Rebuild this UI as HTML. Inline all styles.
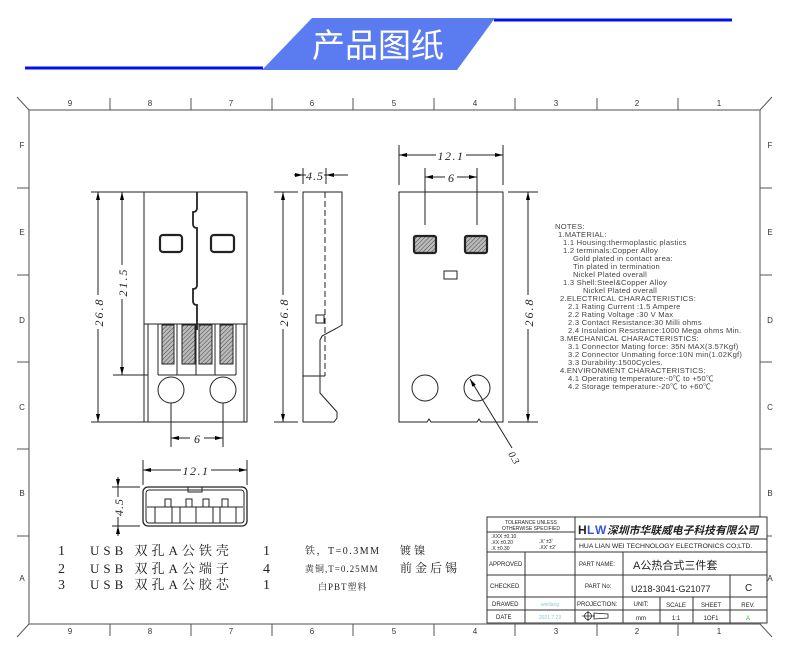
<!DOCTYPE html>
<html><head><meta charset="utf-8"><style>
html,body{margin:0;padding:0;background:#fff;}
svg{display:block;}
text{font-family:"Liberation Sans","Noto Sans CJK SC",sans-serif;}
.s text{font-family:"Liberation Serif","Noto Serif CJK SC",serif;}
</style></head><body>
<svg width="790" height="663" viewBox="0 0 790 663" xmlns="http://www.w3.org/2000/svg">
<defs>
<pattern id="h" width="3" height="3" patternUnits="userSpaceOnUse" patternTransform="rotate(45)">
<rect width="3" height="3" fill="#bbb"/><line x1="0" y1="0" x2="0" y2="3" stroke="#444" stroke-width="1"/></pattern>
<marker id="a" markerWidth="8" markerHeight="6" refX="8" refY="3" orient="auto-start-reverse" markerUnits="userSpaceOnUse"><path d="M0,1 L8,3 L0,5z" fill="#000"/></marker>
</defs>
<line x1="25" y1="68" x2="263" y2="68" stroke="#0010ee" stroke-width="3"/>
<line x1="494" y1="20" x2="732" y2="20" stroke="#0010ee" stroke-width="3"/>
<polygon points="262,70 312,18 495,18 457,70" fill="#5b7cf0"/>
<text x="378" y="57" font-size="33" fill="#fff" text-anchor="middle">产品图纸</text>
<g stroke="#555" fill="none" stroke-width="1">
<rect x="29" y="110" width="731" height="514" stroke="#888" stroke-width="1.5"/>
<line x1="29" y1="110" x2="17" y2="97"/><line x1="760" y1="110" x2="772" y2="97"/>
<line x1="29" y1="624" x2="17" y2="637"/><line x1="760" y1="624" x2="772" y2="637"/>
<path d="M110,110V98M191,110V98M272,110V98M353,110V98M434,110V98M515,110V98M597,110V98M678,110V98"/>
<path d="M110,624V636M191,624V636M272,624V636M353,624V636M434,624V636M515,624V636M597,624V636M678,624V636"/>
<path d="M17,188H29M17,275H29M17,362H29M17,449H29M17,536H29M760,188H772M760,275H772M760,362H772M760,449H772M760,536H772"/>
</g>
<g font-size="8" fill="#333" text-anchor="middle">
<text x="70" y="106">9</text><text x="150" y="106">8</text><text x="231" y="106">7</text><text x="312" y="106">6</text><text x="394" y="106">5</text><text x="475" y="106">4</text><text x="556" y="106">3</text><text x="637" y="106">2</text><text x="719" y="106">1</text>
<text x="70" y="634">9</text><text x="150" y="634">8</text><text x="231" y="634">7</text><text x="312" y="634">6</text><text x="394" y="634">5</text><text x="475" y="634">4</text><text x="556" y="634">3</text><text x="637" y="634">2</text><text x="719" y="634">1</text>
<text x="22" y="148">F</text><text x="22" y="235">E</text><text x="22" y="323">D</text><text x="22" y="410">C</text><text x="22" y="496">B</text><text x="22" y="581">A</text>
<text x="770" y="148">F</text><text x="770" y="235">E</text><text x="770" y="323">D</text><text x="770" y="410">C</text><text x="770" y="496">B</text><text x="770" y="581">A</text>
</g>
<g stroke="#222" fill="none" stroke-width="1">
<rect x="144" y="192" width="103" height="230"/>
<line x1="144" y1="324" x2="247" y2="324"/>
<line x1="148" y1="324" x2="148" y2="422"/><line x1="244" y1="324" x2="244" y2="422"/>
<rect x="162" y="325" width="12" height="39" fill="url(#h)"/>
<rect x="182" y="325" width="13" height="39" fill="url(#h)"/>
<rect x="199" y="325" width="13" height="39" fill="url(#h)"/>
<rect x="220" y="325" width="13" height="39" fill="url(#h)"/>
<path d="M158,324V375M177,324V375M196,324V375M215,324V375M236,324V375M158,375H236"/>
<circle cx="171" cy="390" r="13"/><circle cx="223" cy="390" r="13"/>
<path d="M197,192V208q0,4 -4,4v12q0,4 4,4V285q0,4 -4,4v12q0,4 4,4V330" stroke-width="1.8"/>
<rect x="160" y="235" width="22" height="17" rx="3" stroke-width="2.2"/>
<rect x="211" y="235" width="23" height="17" rx="3" stroke-width="2.2"/>
<path d="M91,192H144M91,422H144M113,375H148M171,403V447M223,403V447"/>
<line x1="98" y1="192" x2="98" y2="422" marker-start="url(#a)" marker-end="url(#a)"/>
<line x1="122" y1="192" x2="122" y2="375" marker-start="url(#a)" marker-end="url(#a)"/>
<line x1="171" y1="438" x2="223" y2="438" marker-start="url(#a)" marker-end="url(#a)"/>
</g>
<g class="s" font-style="italic" font-size="12" fill="#222">
<rect x="92" y="295" width="12" height="34" fill="#fff"/>
<text transform="translate(103,312) rotate(-90)" text-anchor="middle" letter-spacing="2">26.8</text>
<rect x="116" y="265" width="12" height="34" fill="#fff"/>
<text transform="translate(127,282) rotate(-90)" text-anchor="middle" letter-spacing="2">21.5</text>
<rect x="190" y="431" width="14" height="12" fill="#fff"/>
<text x="197" y="443" text-anchor="middle">6</text>
</g>
<g stroke="#222" fill="none" stroke-width="1">
<path d="M303,192H342V325L337,328L322,336L320,340V393L337,412V418L334,422H303Z"/>
<line x1="325" y1="192" x2="325" y2="376" stroke-dasharray="6,3"/>
<line x1="303" y1="376" x2="325" y2="376"/>
<rect x="316" y="315" width="8" height="8"/>
<path d="M274,192H298M274,422H298M303,168V184M326,168V184"/>
<line x1="283" y1="192" x2="283" y2="422" marker-start="url(#a)" marker-end="url(#a)"/>
<line x1="294" y1="175" x2="303" y2="175" marker-end="url(#a)"/>
<line x1="348" y1="175" x2="326" y2="175" marker-end="url(#a)"/>
<line x1="303" y1="175" x2="326" y2="175"/>
</g>
<g class="s" font-style="italic" font-size="12" fill="#222">
<rect x="277" y="295" width="12" height="34" fill="#fff"/>
<text transform="translate(288,312) rotate(-90)" text-anchor="middle" letter-spacing="2">26.8</text>
<rect x="306" y="168" width="18" height="12" fill="#fff"/>
<text x="315" y="180" text-anchor="middle" letter-spacing="1">4.5</text>
</g>
<g stroke="#222" fill="none" stroke-width="1">
<path d="M399,192H503V422H481l-2,-3l-2,3H431l-2,-3l-2,3H399Z"/>
<rect x="414" y="236" width="22" height="17" rx="2" stroke-width="2.2" fill="url(#h)"/>
<rect x="465" y="236" width="22" height="17" rx="2" stroke-width="2.2" fill="url(#h)"/>
<rect x="444" y="271" width="13" height="8"/>
<circle cx="425" cy="388" r="13"/><circle cx="477" cy="388" r="13"/>
<path d="M399,145V185M503,145V185M425,168V225M477,168V225M508,192H538M508,422H538"/>
<line x1="399" y1="155" x2="503" y2="155" marker-start="url(#a)" marker-end="url(#a)"/>
<line x1="425" y1="177" x2="477" y2="177" marker-start="url(#a)" marker-end="url(#a)"/>
<line x1="528" y1="192" x2="528" y2="422" marker-start="url(#a)" marker-end="url(#a)"/>
<line x1="512" y1="448" x2="470" y2="379" marker-end="url(#a)"/>
</g>
<g class="s" font-style="italic" font-size="12" fill="#222">
<rect x="436" y="148" width="30" height="12" fill="#fff"/>
<text x="451" y="160" text-anchor="middle" letter-spacing="1.5">12.1</text>
<rect x="445" y="171" width="12" height="12" fill="#fff"/>
<text x="451" y="182" text-anchor="middle">6</text>
<rect x="522" y="295" width="12" height="34" fill="#fff"/>
<text transform="translate(533,312) rotate(-90)" text-anchor="middle" letter-spacing="2">26.8</text>
<text transform="translate(508,454) rotate(60)" font-size="10">0.3</text>
</g>
<g stroke="#222" fill="none" stroke-width="1">
<rect x="143" y="487" width="104" height="39" rx="5" stroke-width="1.3"/>
<rect x="146" y="490" width="98" height="33" rx="3"/>
<rect x="188" y="487" width="14" height="5"/>
<path d="M165,507V499h6v8M186,507V499h6v8M203,507V499h6v8M222,507V499h6v8"/>
<path d="M147,507H243M155,507V523M172,507V523M180,507V523M196,507V523M213,507V523M220,507V523M236,507V523"/>
<path d="M143,460V485M247,460V485M112,487H140M112,526H140"/>
<line x1="143" y1="470" x2="247" y2="470" marker-start="url(#a)" marker-end="url(#a)"/>
<line x1="118" y1="477" x2="118" y2="487" marker-end="url(#a)"/>
<line x1="118" y1="536" x2="118" y2="526" marker-end="url(#a)"/>
<line x1="118" y1="487" x2="118" y2="526"/>
</g>
<g class="s" font-style="italic" font-size="12" fill="#222">
<rect x="181" y="463" width="30" height="12" fill="#fff"/>
<text x="196" y="475" text-anchor="middle" letter-spacing="1.5">12.1</text>
<rect x="112" y="497" width="12" height="20" fill="#fff"/>
<text transform="translate(123,507) rotate(-90)" text-anchor="middle" letter-spacing="1">4.5</text>
</g>
<g class="s" fill="#222" font-size="14">
<text x="58" y="555">1</text><text x="58" y="573">2</text><text x="58" y="589">3</text>
<text x="90" y="555" letter-spacing="4" font-size="13">USB 双孔A公铁壳</text>
<text x="90" y="573" letter-spacing="4" font-size="13">USB 双孔A公端子</text>
<text x="90" y="589" letter-spacing="4" font-size="13">USB 双孔A公胶芯</text>
<text x="263" y="555">1</text><text x="263" y="573">4</text><text x="263" y="589">1</text>
<text x="305" y="554" font-size="10" letter-spacing="1.5">铁，T=0.3MM</text>
<text x="400" y="554" font-size="11" letter-spacing="3">镀镍</text>
<text x="305" y="572" font-size="9" letter-spacing="1">黄铜,T=0.25MM</text>
<text x="400" y="572" font-size="12" letter-spacing="3">前金后锡</text>
<text x="318" y="590" font-size="9" letter-spacing="1">白PBT塑料</text>
</g>
<g font-size="7.6" fill="#444" letter-spacing="0.25">
<text x="555" y="229">NOTES:</text>
<text x="558" y="237">1.MATERIAL:</text>
<text x="563" y="245">1.1 Housing:thermoplastic plastics</text>
<text x="563" y="253">1.2 terminals:Copper Alloy</text>
<text x="573" y="261">Gold plated in contact area:</text>
<text x="573" y="269">Tin plated in termination</text>
<text x="573" y="277">Nickel Plated overall</text>
<text x="563" y="285">1.3 Shell:Steel&amp;Copper Alloy</text>
<text x="583" y="293">Nickel Plated overall</text>
<text x="560" y="301">2.ELECTRICAL CHARACTERISTICS:</text>
<text x="568" y="309">2.1 Rating Current :1.5 Ampere</text>
<text x="568" y="317">2.2 Rating Voltage :30 V Max</text>
<text x="568" y="325">2.3 Contact Resistance:30 Milli ohms</text>
<text x="568" y="333">2.4 Insulation Resistance:1000 Mega ohms Min.</text>
<text x="560" y="341">3.MECHANICAL CHARACTERISTICS:</text>
<text x="568" y="349">3.1 Connector Mating force: 35N MAX(3.57Kgf)</text>
<text x="568" y="357">3.2 Connector Unmating force:10N min(1.02Kgf)</text>
<text x="568" y="365">3.3 Durability:1500Cycles.</text>
<text x="560" y="373">4.ENVIRONMENT CHARACTERISTICS:</text>
<text x="568" y="381">4.1 Operating temperature:-0℃ to +50℃</text>
<text x="568" y="389">4.2 Storage temperature:-20℃ to +60℃</text>
</g>
<g stroke="#333" fill="none" stroke-width="1">
<rect x="487" y="517" width="280" height="106" fill="#fff"/>
<path d="M487,552H767M487,575H767M487,597H767M487,610H767M575,517V623M525,552V623M623,552V623M660,597V623M693,597V623M730,575V623M487,532H575M575,539H767"/>
</g>
<g fill="#222">
<text x="531" y="524" font-size="5" text-anchor="middle">TOLERANCE UNLESS</text>
<text x="531" y="530" font-size="5" text-anchor="middle">OTHERWISE SPECIFIED</text>
<text x="491" y="538" font-size="5">.XXX ±0.10</text>
<text x="491" y="544" font-size="5">.XX  ±0.20</text>
<text x="491" y="550" font-size="5">.X   ±0.30</text>
<text x="539" y="543" font-size="5">.X'  ±3'</text>
<text x="539" y="549" font-size="5">.XX' ±2'</text>
<text x="578" y="534" font-size="12" font-weight="bold" fill="#222">H</text><text x="587" y="534" font-size="12" font-weight="bold" fill="#3355dd">L</text><text x="595" y="534" font-size="12" font-weight="bold" fill="#3355dd">W</text>
<text x="607" y="534" font-size="10.8" font-weight="bold" font-style="italic">深圳市华联威电子科技有限公司</text>
<text x="579" y="548" font-size="6.8">HUA LIAN WEI TECHNOLOGY ELECTRONICS CO;LTD.</text>
<text x="489" y="566" font-size="6">APPROVED</text>
<text x="490" y="588" font-size="6">CHECKED</text>
<text x="492" y="606" font-size="6">DRAWED</text>
<text x="496" y="619" font-size="6">DATE</text>
<text x="550" y="606" font-size="5" fill="#8cc8e0" text-anchor="middle">weiliang</text>
<text x="550" y="619" font-size="5" fill="#8cc8e0" text-anchor="middle">2021.7.23</text>
<text x="579" y="566" font-size="6">PART NAME:</text>
<text x="633" y="569" font-size="11">A公热合式三件套</text>
<text x="585" y="588" font-size="6">PART No:</text>
<text x="631" y="592" font-size="9">U218-3041-G21077</text>
<text x="745" y="591" font-size="10">C</text>
<text x="577" y="606" font-size="6">PROJECTION:</text>
<text x="641" y="606" font-size="6" text-anchor="middle">UNIT:</text>
<text x="676" y="607" font-size="6" text-anchor="middle">SCALE</text>
<text x="711" y="607" font-size="6" text-anchor="middle">SHEET</text>
<text x="748" y="607" font-size="6" text-anchor="middle">REV.</text>
<text x="641" y="620" font-size="6" text-anchor="middle">mm</text>
<text x="676" y="620" font-size="6" text-anchor="middle">1:1</text>
<text x="711" y="620" font-size="6" text-anchor="middle">1OF1</text>
<text x="748" y="620" font-size="6" fill="#2c2" text-anchor="middle">A</text>
</g>
<g stroke="#222" fill="none" stroke-width="0.8">
<circle cx="588" cy="616" r="3.5"/><path d="M582,616H595M588,611V621M594,613L608,614V618L594,619Z"/>
</g>
</svg>
</body></html>
